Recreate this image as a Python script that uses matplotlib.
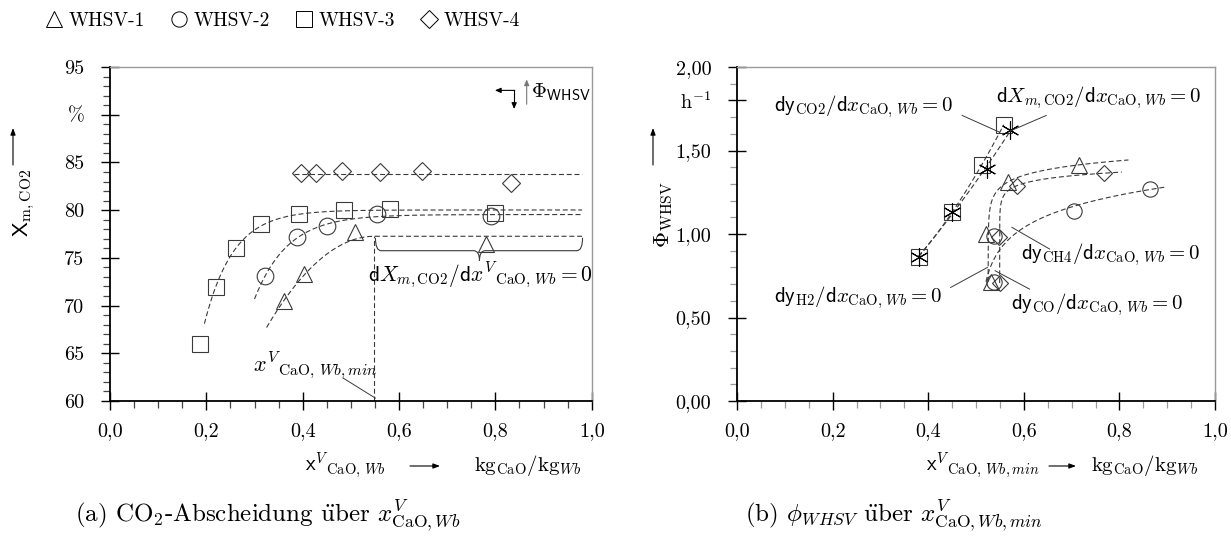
import numpy as np
import matplotlib
matplotlib.use("Agg")
import matplotlib.pyplot as plt
from matplotlib.lines import Line2D
from matplotlib.path import Path
from matplotlib.patches import PathPatch

plt.rcParams["font.family"] = ["cmr10", "DejaVu Serif"]
plt.rcParams["mathtext.fontset"] = "cm"
plt.rcParams["axes.formatter.use_mathtext"] = True
plt.rcParams["axes.unicode_minus"] = False

# ---------------- data ----------------
series_labels = ["WHSV-1", "WHSV-2", "WHSV-3", "WHSV-4"]
series_markers = ["^", "o", "s", "D"]

# (a) CO2 capture X_m,CO2 [%] over CaO mass fraction
xa_whsv1 = [0.362, 0.403, 0.508, 0.781]
ya_whsv1 = [70.5, 73.3, 77.7, 76.5]
xa_whsv2 = [0.322, 0.389, 0.450, 0.555, 0.790]
ya_whsv2 = [73.1, 77.2, 78.3, 79.6, 79.4]
xa_whsv3 = [0.186, 0.220, 0.262, 0.314, 0.392, 0.486, 0.582, 0.799]
ya_whsv3 = [66.0, 71.9, 76.0, 78.6, 79.6, 80.0, 80.1, 79.7]
xa_whsv4 = [0.396, 0.428, 0.481, 0.560, 0.648, 0.832]
ya_whsv4 = [83.9, 83.9, 84.1, 84.0, 84.1, 82.8]
xa_min = 0.549

# (b) WHSV [1/h] over minimal CaO fraction for the different criteria
xb_tri = [0.531, 0.520, 0.566, 0.715]
yb_tri = [0.714, 1.000, 1.310, 1.414]
xb_circ = [0.538, 0.537, 0.706, 0.865]
yb_circ = [0.714, 0.990, 1.140, 1.270]
xb_diam = [0.550, 0.549, 0.586, 0.767]
yb_diam = [0.706, 0.980, 1.290, 1.364]
xb_sq = [0.380, 0.450, 0.512, 0.558]
yb_sq = [0.864, 1.130, 1.414, 1.654]
xb_ast = [0.380, 0.450, 0.522, 0.571]
yb_ast = [0.864, 1.130, 1.390, 1.620]

xticks = [0.0, 0.2, 0.4, 0.6, 0.8, 1.0]
xticklabels = ["0,0", "0,2", "0,4", "0,6", "0,8", "1,0"]
ya_ticks = [60, 65, 70, 75, 80, 85, 90, 95]
ya_ticklabels = ["60", "65", "70", "75", "80", "85", "%", "95"]
yb_ticks = [0.0, 0.5, 1.0, 1.5, 1.8, 2.0]
yb_ticklabels = ["0,00", "0,50", "1,00", "1,50", r"h$^{\mathregular{-1}}$", "2,00"]


# ---------------- trend fits ----------------
def fit_saturation(x, y):
    """y = a - b*exp(-k*x), k by grid search, a/b by least squares."""
    x = np.asarray(x, float)
    y = np.asarray(y, float)
    best = None
    for k in np.linspace(2.0, 40.0, 381):
        A = np.column_stack([np.ones_like(x), -np.exp(-k * x)])
        coef = np.linalg.lstsq(A, y, rcond=None)[0]
        r = np.sum((A @ coef - y) ** 2)
        if best is None or r < best[0]:
            best = (r, k, coef)
    _, k, (a, b) = best
    return lambda t: a - b * np.exp(-k * np.asarray(t))


def fit_to_vertex(x, y, xv):
    """Parabola rising up to its vertex at xv, constant beyond it."""
    x = np.asarray(x, float)
    y = np.asarray(y, float)
    d2 = np.minimum(x - xv, 0.0) ** 2
    A = np.column_stack([np.ones_like(x), -d2])
    ymax, a = np.linalg.lstsq(A, y, rcond=None)[0]
    return lambda t: ymax - a * np.minimum(np.asarray(t) - xv, 0.0) ** 2


def fit_bend(x, y):
    """x = x0 + c*exp(k*y): steep rise followed by a flat branch."""
    x = np.asarray(x, float)
    y = np.asarray(y, float)
    best = None
    for k in np.linspace(2.0, 40.0, 381):
        A = np.column_stack([np.ones_like(y), np.exp(k * y)])
        coef = np.linalg.lstsq(A, x, rcond=None)[0]
        r = np.sum((A @ coef - x) ** 2)
        if coef[1] > 0 and (best is None or r < best[0]):
            best = (r, k, coef)
    _, k, (x0, c) = best
    return x0, c, k


INK = "#3a3a3a"
DASH = (0, (4.5, 2.5))
mk = dict(ls="none", mfc="none", mec=INK, mew=0.8)

fig = plt.figure(figsize=(12.31, 5.40), dpi=100)
W, H = 1231.0, 540.0


def fx(px):
    return px / W


def fy(py):
    return 1.0 - py / H


ax1 = fig.add_axes([fx(110), fy(401), 481.7 / W, 334 / H])
ax2 = fig.add_axes([fx(737), fy(401), 478 / W, 334 / H])


def style_axes(ax, minor_y, minor_color):
    for s in ("left", "bottom"):
        ax.spines[s].set_color("black")
        ax.spines[s].set_linewidth(1.3)
    for s in ("top", "right"):
        ax.spines[s].set_color("#9a9a9a")
        ax.spines[s].set_linewidth(1.0)
    ax.set_xlim(0, 1)
    ax.set_xticks(xticks)
    ax.set_xticklabels(xticklabels)
    ax.set_xticks(np.arange(0, 1.0001, 0.05), minor=True)
    ax.set_yticks(minor_y, minor=True)
    ax.tick_params(which="major", direction="inout", length=13, width=1.0,
                   labelsize=14.5, pad=9, color="black")
    ax.tick_params(which="minor", direction="out", length=5, width=0.9,
                   color=minor_color)
    ax.tick_params(axis="y", which="major", pad=12)


# ---------------- panel (a) ----------------
style_axes(ax1, np.arange(60, 95.01, 1.0), "#444444")
ax1.set_ylim(60, 95)
ax1.set_yticks(ya_ticks)
ax1.set_yticklabels(ya_ticklabels)

fa1 = fit_to_vertex(xa_whsv1, ya_whsv1, xa_min)
fa2 = fit_saturation(xa_whsv2, ya_whsv2)
fa3 = fit_saturation(xa_whsv3, ya_whsv3)
fa4_level = np.mean(ya_whsv4)

for start, f in ((0.325, fa1), (0.300, fa2), (0.196, fa3)):
    t = np.linspace(start, 0.98, 200)
    ax1.plot(t, f(t), color=INK, lw=0.8, ls=DASH)
ax1.plot([0.383, 0.98], [fa4_level, fa4_level], color=INK, lw=0.8, ls=DASH)

ax1.plot(xa_whsv1, ya_whsv1, marker="^", ms=12, **mk)
ax1.plot(xa_whsv2, ya_whsv2, marker="o", ms=12, **mk)
ax1.plot(xa_whsv3, ya_whsv3, marker="s", ms=12, **mk)
ax1.plot(xa_whsv4, ya_whsv4, marker="D", ms=9, **mk)

# minimum CaO fraction where the WHSV-1 curve levels off
y_plateau = float(fa1(xa_min))
ax1.plot([xa_min, xa_min], [60, y_plateau], color=INK, lw=0.8, ls=DASH)
ax1.text(0.425, 63.7, r"$x^{V}{}_{\mathrm{CaO},\,Wb,min}$", ha="center",
         va="center", fontsize=16)
ax1.plot([0.484, 0.551], [62.4, 60.3], color=INK, lw=0.7)

# curly brace over the flat region
bx0, bx1, bxm = 0.551, 0.981, 0.767
bt, bb, btip = 77.1, 75.75, 74.7
d = 0.012
verts = [(bx0, bt), (bx0, bb), (bx0 + d, bb),
         (bxm - d, bb),
         (bxm, bb), (bxm, btip),
         (bxm, bb), (bxm + d, bb),
         (bx1 - d, bb),
         (bx1, bb), (bx1, bt)]
codes = [Path.MOVETO, Path.CURVE3, Path.CURVE3,
         Path.LINETO,
         Path.CURVE3, Path.CURVE3,
         Path.CURVE3, Path.CURVE3,
         Path.LINETO,
         Path.CURVE3, Path.CURVE3]
ax1.add_patch(PathPatch(Path(verts, codes), fc="none", ec=INK, lw=0.8))
ax1.text(0.535, 73.1,
         r"$\mathsf{d}X_{m,\mathrm{CO2}}/\mathsf{d}x^{V}{}_{\mathrm{CaO},\,Wb} = 0$",
         ha="left", va="center", fontsize=15.5)

# direction hint for increasing WHSV
arr = dict(arrowstyle="-|>,head_length=0.35,head_width=0.15", color="black",
           lw=0.8, shrinkA=0, shrinkB=0)
ax1.plot([0.839, 0.839], [92.55, 91.2], color="black", lw=0.8)
ax1.annotate("", xy=(0.799, 92.55), xytext=(0.840, 92.55), arrowprops=arr)
ax1.annotate("", xy=(0.839, 90.6), xytext=(0.839, 91.3), arrowprops=arr)
ax1.annotate("", xy=(0.865, 93.7), xytext=(0.865, 91.1),
             arrowprops=dict(arr, color="#777777"))
ax1.text(0.873, 92.4, r"$\mathit{\Phi}_{\mathsf{WHSV}}$", ha="left",
         va="center", fontsize=15)

# ---------------- panel (b) ----------------
style_axes(ax2, np.arange(0, 2.001, 0.1), "#9a9a9a")
ax2.set_ylim(0, 2)
ax2.set_yticks(yb_ticks)
ax2.set_yticklabels(yb_ticklabels)

for xs, ys, x_end in ((xb_tri, yb_tri, 0.819), (xb_diam, yb_diam, 0.805),
                      (xb_circ, yb_circ, 0.894)):
    x0, c, k = fit_bend(xs, ys)
    y_end = np.log((x_end - x0) / c) / k
    t = np.linspace(min(ys), y_end, 300)
    ax2.plot(x0 + c * np.exp(k * t), t, color=INK, lw=0.8, ls=DASH)

for xs, ys in ((xb_sq, yb_sq), (xb_ast, yb_ast)):
    p = np.polyfit(xs, ys, 2)
    t = np.linspace(min(xs), max(xs), 100)
    ax2.plot(t, np.polyval(p, t), color=INK, lw=0.8, ls=DASH)

ax2.plot(xb_tri, yb_tri, marker="^", ms=11, **mk)
ax2.plot(xb_circ, yb_circ, marker="o", ms=11, **mk)
ax2.plot(xb_diam, yb_diam, marker="D", ms=8, **mk)
ax2.plot(xb_sq, yb_sq, marker="s", ms=11, **mk)
ax2.plot(xb_ast, yb_ast, marker=(6, 2, 0), ms=13, ls="none", mec="black",
         mew=0.8)

lab = 15
ax2.text(0.077, 1.765,
         r"$\mathsf{d}\mathsf{y}_{\mathrm{CO2}}/\mathsf{d}x_{\mathrm{CaO},\,Wb} = 0$",
         ha="left", va="center", fontsize=lab)
ax2.plot([0.471, 0.549], [1.71, 1.61], color=INK, lw=0.7)
ax2.text(0.541, 1.82,
         r"$\mathsf{d}X_{m,\mathrm{CO2}}/\mathsf{d}x_{\mathrm{CaO},\,Wb} = 0$",
         ha="left", va="center", fontsize=lab)
ax2.plot([0.647, 0.571], [1.71, 1.616], color=INK, lw=0.7)
ax2.text(0.594, 0.876,
         r"$\mathsf{d}\mathsf{y}_{\mathrm{CH4}}/\mathsf{d}x_{\mathrm{CaO},\,Wb} = 0$",
         ha="left", va="center", fontsize=lab)
ax2.plot([0.654, 0.575], [0.91, 1.04], color=INK, lw=0.7)
ax2.text(0.077, 0.62,
         r"$\mathsf{d}\mathsf{y}_{\mathrm{H2}}/\mathsf{d}x_{\mathrm{CaO},\,Wb} = 0$",
         ha="left", va="center", fontsize=lab)
ax2.plot([0.447, 0.524], [0.68, 0.80], color=INK, lw=0.7)
ax2.text(0.573, 0.576,
         r"$\mathsf{d}\mathsf{y}_{\mathrm{CO}}/\mathsf{d}x_{\mathrm{CaO},\,Wb} = 0$",
         ha="left", va="center", fontsize=lab)
ax2.plot([0.612, 0.540], [0.67, 0.78], color=INK, lw=0.7)

# ---------------- axis titles ----------------
farr = dict(arrowstyle="-|>,head_length=0.4,head_width=0.15", color="black",
            lw=0.8, shrinkA=0, shrinkB=0)
fig.text(fx(24), fy(203), r"$\mathsf{X}_{\mathrm{m,CO2}}$", rotation=90,
         ha="center", va="center", fontsize=16)
fig.text(fx(664), fy(215), r"$\mathit{\Phi}_{\mathrm{WHSV}}$", rotation=90,
         ha="center", va="center", fontsize=16)
for xp in (13, 653):
    ax1.annotate("", xy=(fx(xp), fy(128)), xytext=(fx(xp), fy(165)),
                 xycoords="figure fraction", textcoords="figure fraction",
                 arrowprops=farr)

for xv, label in ((345, r"$\mathsf{x}^{V}{}_{\mathrm{CaO},\,Wb}$"),
                  (983, r"$\mathsf{x}^{V}{}_{\mathrm{CaO},\,Wb,min}$")):
    fig.text(fx(xv), fy(466), label, ha="center", va="center", fontsize=15)
for xa0, xa1 in ((410, 440), (1049, 1076)):
    ax1.annotate("", xy=(fx(xa1), fy(466)), xytext=(fx(xa0), fy(466)),
                 xycoords="figure fraction", textcoords="figure fraction",
                 arrowprops=farr)
for xu in (528, 1145):
    fig.text(fx(xu), fy(466), r"$\mathrm{kg}_{\mathrm{CaO}}/\mathrm{kg}_{Wb}$",
             ha="center", va="center", fontsize=15)

# ---------------- captions ----------------
uml = r"$\ddot{\mathrm{u}}$ber"
fig.text(fx(75), fy(516),
         r"(a) CO$_{\mathregular{2}}$-Abscheidung " + uml + r" $x^{V}_{\mathrm{CaO},Wb}$",
         ha="left", va="center", fontsize=18)
fig.text(fx(745), fy(516),
         r"(b) $\phi_{WHSV}$ " + uml + r" $x^{V}_{\mathrm{CaO},Wb,min}$",
         ha="left", va="center", fontsize=18)

# ---------------- legend ----------------
handles = [Line2D([], [], marker=m, ms=(9 if m == "D" else 11), ls="none",
                  mfc="none", mec="black", mew=0.7) for m in series_markers]
fig.legend(handles, series_labels, loc="upper left",
           bbox_to_anchor=(fx(30), fy(0)), ncol=4, frameon=False,
           fontsize=14, handletextpad=0.1, columnspacing=1.1,
           handlelength=1.3, borderaxespad=0.2)

fig.savefig("out.png", dpi=100)
